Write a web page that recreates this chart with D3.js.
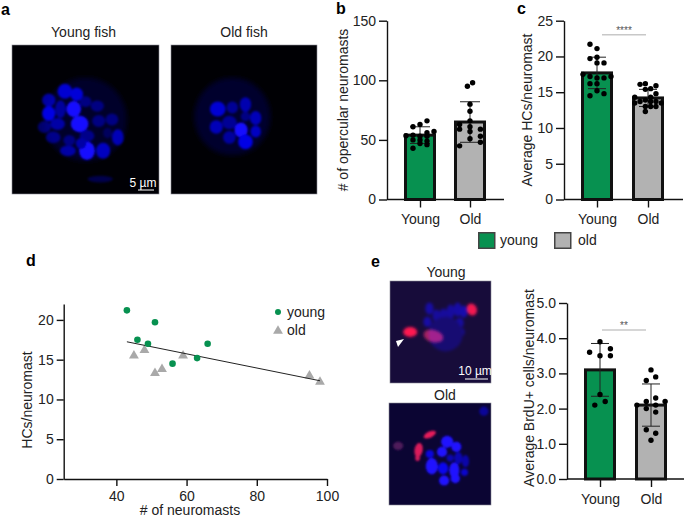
<!DOCTYPE html>
<html><head><meta charset="utf-8">
<script src="https://cdn.jsdelivr.net/npm/d3@7"></script>
<style>
html,body{margin:0;padding:0;background:#fff}
svg{display:block}
text{font-family:"Liberation Sans",Arial,sans-serif;fill:#222}
</style></head><body><svg id="c" width="685" height="517"></svg>
<script>
// ---- data ----
const groups = ["Young","Old"];
const opercularMeans = [54,65];
const opercularSD = [7,17];
const opercularYoung = [66,63,61,57,56,54,53.5,53,53,50,50,49,47,46,43];
const opercularYoungSlot = [1,0,-1,2,1,-1,-2,0,1,-1,0,1,0,1,-1];
const opercularOld = [98,95,80,74,66,63,61,59,59,57,53,51,48,45];
const opercularOldSlot = [.5,-.5,0,0,0,-2,0,2,-2,0,2,0,2,-2];
const hcMeans = [17.7,14.2];
const hcSD = [2.2,1.2];
const hcYoung = [21.7,21.1,19.9,19.7,19.1,19.1,17.5,17.2,17,17,17.2,16.2,16.2,15.2,14.8,14.5];
const hcYoungSlot = [-1,0,0,-1,0,1,-2,-1,0,1,2,-1,0,0,1,-1];
const hcOld = [16.1,16.2,15.9,15.5,15.4,14.8,14.3,14.3,13.5,13.7,13.9,13.7,13.7,13.5,13,13,13,12.3];
const hcOldSlot = [-1.5,-.5,1.5,.5,-.5,1.5,.5,-2.5,-2.5,-1.5,-.5,.5,1.5,2.5,-.5,.5,1.5,-.5];
const brduMeans = [3.1,2.1];
const brduSD = [.75,.6];
const brduYoung = [3.9,3.7,3.6,3.5,3.5,2.4,2.2,2.1];
const brduYoungSlot = [0,2,-2,2,0,0,1,-1];
const brduOld = [3.1,2.9,2.8,2.3,2.2,2.2,2.1,2.1,2,1.9,1.4,1.3,1.1];
const brduOldSlot = [0,1,-1,1,-1,3,-3,1,-1,1,-1,1,0];
const scatterYoungX = [43,51,46,49,66,63,56];
const scatterYoungY = [21.2,19.7,17.5,17,17,15.2,14.5];
const scatterOldX = [45,48,59,53,51,95,98];
const scatterOldY = [15.5,16.2,15.5,13.8,13.3,13,12.2];
const fitX = [43,98];
const fitY = [17.25,12.35];
const barTicksB = [0,50,100,150];
const barTicksC = [0,5,10,15,20,25];
const barTicksE = [0,1,2,3,4,5];
const scatterTicksX = [40,60,80,100];
const scatterTicksY = [0,5,10,15,20];
const GREEN="#079150", GREY="#b2b2b2", DARK="#111";

// micrograph cells: [x, y, rx, ry, brightness, rotation] in % of the frame
const cellsYoungFish = [[36,31,5,5,.75],[44,33,4.3,4.5,.78],[25,37,4.5,4.5,.55],[50,38,4,3.6,.3],[58,41,4.5,3.8,.3],[25,46,4.5,5,.85],[33,43,3.6,6,.45],[42,43,5,5.4,1],[46,53,6,5.6,1],[59,51,4.5,4,.3],[68,50,4.3,4,.3],[31,53,5,4,.5],[22,55,4.5,4,.3],[28,62,5,4,.35],[39,64,4,3.6,.3],[51,61,5,4,.35],[72,62,4,5.4,.6],[62,71,4.8,5.4,.65],[51,71,5.4,6.2,1],[38,71,5.4,3.6,.5],[47,66,3.6,3.6,.5],[65,59,3,3.5,.1],[60,90,8.6,2.2,.14]];
const cellsOldFish = [[32,43,5.4,5,.75],[42,42,3.9,4,.4],[51,40,3.9,5,.55],[58,49,3.9,4.7,.6],[40,52,5,4.5,.4],[31,55,4.5,4.5,.6],[51,48,3.2,3.2,.3],[58,58,3.6,4,.65],[48,57,4.6,5,1],[51,65,5,5,.85],[40,62,4.3,4.3,.45]];
const cellsEYoungBlue = [[39,27,4,6,.45],[46,34,4,6,.4],[53,33,4,6,.4],[60,30,4,7,.42],[67,28,4,7,.45],[73,30,4,6,.5],[37,40,4,5,.45],[45,45,4,5,.4],[53,43,4,5,.35],[61,42,4,5,.38],[69,41,4,5,.42],[50,53,5,4,.28],[60,52,5,4,.28],[70,50,4,4,.3],[55,52,17,17,.16]];
const cellsERedYoung = [[20,50,7,5,1,0],[43,54,10,6,.6,15],[81,28,5,6,.95,-20]];
const cellsEOldBlue = [[57,38,6,6,1],[66,43,5,5,1],[52,48,5,5,1],[40,50,4,4,.8],[42,62,6,8,1],[53,64,5,6,.9],[64,66,5,8,1],[54,76,5,5,1],[65,74,4.6,4.6,1],[74,68,3.5,3.5,.7],[68,54,4,6,.55],[60,54,3.5,3.5,.55],[75,57,3.5,6,.5],[93,8,4.5,4.5,.4]];
const cellsERedOld = [[40,31,6.5,3,.9,-25],[29,46,4,7,.85,10],[28,54,2.4,3,.8,0],[9,42,5,4,.28,0]];

const svg=d3.select("#c");
const defs=svg.append("defs");
[["b1",1.1],["b2",1.6],["b3",2.6]].forEach(([id,s])=>{
  defs.append("filter").attr("id",id).attr("x","-50%").attr("y","-50%").attr("width","200%").attr("height","200%")
    .append("feGaussianBlur").attr("stdDeviation",s);
});

let frameId=0;
function frame(x0,x1,y0,y1,bg,layers){
  const sx=d3.scaleLinear([0,100],[x0,x1]), sy=d3.scaleLinear([0,100],[y0,y1]);
  const id="f"+(frameId++);
  defs.append("clipPath").attr("id",id).append("rect").attr("x",x0).attr("y",y0).attr("width",x1-x0).attr("height",y1-y0);
  const g=svg.append("g").attr("clip-path",`url(#${id})`).style("isolation","isolate");
  g.append("rect").attr("x",x0).attr("y",y0).attr("width",x1-x0).attr("height",y1-y0).attr("fill",bg);
  layers.forEach(({cells,color,blur})=>{
    const lg=g.append("g").attr("filter",`url(#${blur})`).style("mix-blend-mode","screen");
    lg.selectAll("ellipse").data(cells).join("ellipse")
      .attr("cx",d=>sx(d[0])).attr("cy",d=>sy(d[1]))
      .attr("rx",d=>Math.abs(sx(d[2])-sx(0))).attr("ry",d=>Math.abs(sy(d[3])-sy(0)))
      .attr("transform",d=>d[5]?`rotate(${d[5]} ${sx(d[0])} ${sy(d[1])})`:null)
      .attr("fill",d=>color(d[4]));
  });
  svg.append("rect").attr("x",x0).attr("y",y0).attr("width",x1-x0).attr("height",y1-y0).attr("fill","none").attr("stroke","#8a8a96").attr("stroke-width",.6);
}
const blue=b=>`rgb(${b>.9?20:0},${b>.9?10:0},${Math.round(40+215*b)})`;
const red=b=>`rgb(255,${b>.9?10:20},${b>.9?30:50})`.replace("255",Math.round(255*b));

frame(12,159,45,194,"#000005",[
  {cells:[[50,50,28,28,.0]],color:blue,blur:"b3"},
  {cells:cellsYoungFish,color:blue,blur:"b1"}]);
frame(171,317,45,194,"#000004",[
  {cells:[[42,48,26,26,.02]],color:blue,blur:"b3"},
  {cells:cellsOldFish,color:blue,blur:"b1"}]);
frame(390,491,281,383,"#170c3a",[
  {cells:cellsEYoungBlue,color:blue,blur:"b2"},
  {cells:cellsERedYoung,color:red,blur:"b2"}]);
frame(389,491,403,505,"#0b0533",[
  {cells:cellsEOldBlue,color:blue,blur:"b1"},
  {cells:cellsERedOld,color:red,blur:"b1"}]);

function txt(x,y,s,size,o={}){
  const t=svg.append("text").attr("x",x).attr("y",y).attr("font-size",size).text(s)
    .attr("text-anchor",o.anchor||"middle");
  if(o.weight)t.attr("font-weight",o.weight);
  if(o.fill)t.style("fill",o.fill);
  if(o.rotate)t.attr("transform",`rotate(-90 ${x} ${y})`);
  return t;
}
// panel letters
[["a",1,15],["b",336,14],["c",517,14],["d",26,266],["e",371,267]].forEach(d=>txt(d[1],d[2],d[0],16,{anchor:"start",weight:"bold"}).style("fill","#000"));
// image labels
txt(83.5,37,"Young fish",14); txt(244,37,"Old fish",14);
txt(446,277,"Young",14); txt(445,400,"Old",14);
// scale bars
txt(143,187,"5 µm",12,{fill:"#fff"});
svg.append("line").attr("x1",138).attr("x2",154).attr("y1",190).attr("y2",190).attr("stroke","#fff").attr("stroke-width",1);
txt(475,375,"10 µm",12,{fill:"#fff"});
svg.append("line").attr("x1",465).attr("x2",488).attr("y1",379).attr("y2",379).attr("stroke","#fff").attr("stroke-width",1);
// arrowhead
svg.append("path").attr("d",d3.line()([[396,341],[404,339],[398,347]])).attr("fill","#fff");

function styleAxis(g){
  g.selectAll(".domain").attr("stroke",DARK).attr("stroke-width",1.4);
  g.selectAll(".tick line").attr("stroke",DARK).attr("stroke-width",1.4);
  g.selectAll(".tick text").attr("font-size",14).style("fill","#222")
   .attr("font-family",'"Liberation Sans",Arial,sans-serif');
}

function barPanel(o){
  const y=d3.scaleLinear([0,o.max],[o.y0,o.yTop]);
  const x=d3.scalePoint(groups,o.centers);
  const barW=29;
  const g=svg.append("g");
  g.selectAll("rect").data(groups).join("rect")
    .attr("x",d=>x(d)-barW/2).attr("width",barW)
    .attr("y",(d,i)=>y(o.means[i])).attr("height",(d,i)=>y(0)-y(o.means[i]))
    .attr("fill",(d,i)=>i?GREY:GREEN).attr("stroke",DARK).attr("stroke-width",3);
  // error bars
  groups.forEach((d,i)=>{
    const hi=y(o.means[i]+o.sd[i]),lo=y(o.means[i]-o.sd[i]),c=x(d),w=o.capW;
    const p=g.append("path").attr("fill","none").attr("stroke","#222").attr("stroke-width",1)
      .attr("d",`M${c-w},${hi}H${c+w}M${c},${hi}V${lo}M${c-w},${lo}H${c+w}`);
  });
  // dots
  [[o.young,o.youngSlot,o.steps[0],groups[0]],[o.old,o.oldSlot,o.steps[1],groups[1]]].forEach(([vals,slots,step,grp])=>{
    g.append("g").selectAll("circle").data(vals).join("circle")
      .attr("cx",(d,i)=>x(grp)+slots[i]*step).attr("cy",d=>y(d)).attr("r",2.7).attr("fill","#000");
  });
  // axes
  const ay=svg.append("g").attr("transform",`translate(${o.axisX},0)`)
    .call(d3.axisLeft(y).tickValues(o.ticks).tickSize(8).tickPadding(3).tickSizeOuter(0));
  styleAxis(ay);
  const ax=svg.append("g").attr("transform",`translate(0,${o.y0})`)
    .call(d3.axisBottom(x).tickSize(8).tickPadding(7));
  ax.select(".domain").remove();
  styleAxis(ax);
  svg.append("line").attr("x1",o.axisX).attr("x2",o.right).attr("y1",o.y0).attr("y2",o.y0).attr("stroke",DARK).attr("stroke-width",1.4);
  txt(o.titleX,o.titleY,o.title,14,{rotate:true});
  if(o.sig){
    svg.append("line").attr("x1",o.sig.x1).attr("x2",o.sig.x2).attr("y1",o.sig.y).attr("y2",o.sig.y).attr("stroke","#c8c8c8").attr("stroke-width",1.6);
    txt((o.sig.x1+o.sig.x2)/2,o.sig.y-1,o.sig.label,10,{fill:"#555"});
  }
}
barPanel({max:150,y0:199.5,yTop:20.7,centers:[420,470],means:opercularMeans,sd:opercularSD,young:opercularYoung,youngSlot:opercularYoungSlot,old:opercularOld,oldSlot:opercularOldSlot,steps:[7,5.2],capW:10,axisX:387,right:504,ticks:barTicksB,title:"# of opercular neuromasts",titleX:348,titleY:110});
barPanel({max:25,y0:199.5,yTop:20.7,centers:[597,648],means:hcMeans,sd:hcSD,young:hcYoung,youngSlot:hcYoungSlot,old:hcOld,oldSlot:hcOldSlot,steps:[7,5.3],capW:9,axisX:564,right:683,ticks:barTicksC,title:"Average HCs/neuromast",titleX:532,titleY:110,sig:{x1:602,x2:646,y:34.7,label:"****"}});
barPanel({max:5,y0:479,yTop:303,centers:[600,651],means:brduMeans,sd:brduSD,young:brduYoung,youngSlot:brduYoungSlot,old:brduOld,oldSlot:brduOldSlot,steps:[5.2,4.7],capW:9,axisX:567,right:684,ticks:barTicksE,title:"Average BrdU+ cells/neuromast",titleX:534,titleY:388,sig:{x1:602,x2:646,y:330,label:"**"}});

// legend (middle)
[[478,"young",GREEN,500],[554,"old",GREY,578]].forEach(d=>{
  svg.append("rect").attr("x",d[0]+.75).attr("y",232.75).attr("width",16).attr("height",15.5).attr("fill",d[2]).attr("stroke","#444").attr("stroke-width",1.5);
  txt(d[3],244.5,d[1],14,{anchor:"start"});
});

// scatter d
const sx=d3.scaleLinear([25,100],[63.7,327]);
const sy=d3.scaleLinear([0,22],[479,304]);
const tri=d3.symbol().type(d3.symbolTriangle).size(42);
svg.append("g").selectAll("path").data(scatterOldX).join("path")
  .attr("d",tri).attr("transform",(d,i)=>`translate(${sx(d)},${sy(scatterOldY[i])})`).attr("fill","#a9a9a9");
svg.append("path").attr("fill","none").attr("stroke","#222").attr("stroke-width",1)
  .attr("d",d3.line().x((d,i)=>sx(d)).y((d,i)=>sy(fitY[i]))(fitX));
svg.append("g").selectAll("circle").data(scatterYoungX).join("circle")
  .attr("cx",d=>sx(d)).attr("cy",(d,i)=>sy(scatterYoungY[i])).attr("r",3.3).attr("fill",GREEN);
const dy=svg.append("g").attr("transform",`translate(${sx(25)},0)`)
  .call(d3.axisLeft(sy).tickValues(scatterTicksY).tickSize(7).tickPadding(3).tickSizeOuter(0));
styleAxis(dy);
const dx=svg.append("g").attr("transform",`translate(0,${sy(0)})`)
  .call(d3.axisBottom(sx).tickValues(scatterTicksX).tickSize(7).tickPadding(5).tickSizeOuter(0));
styleAxis(dx);
txt(32,400,"HCs/neuromast",14,{rotate:true});
txt(190,515,"# of neuromasts",14);
svg.append("circle").attr("cx",278).attr("cy",312).attr("r",3).attr("fill",GREEN);
svg.append("path").attr("d",tri).attr("transform","translate(278,331)").attr("fill","#a9a9a9");
txt(287,317,"young",14,{anchor:"start"});
txt(287,335,"old",14,{anchor:"start"});
</script></body></html>
